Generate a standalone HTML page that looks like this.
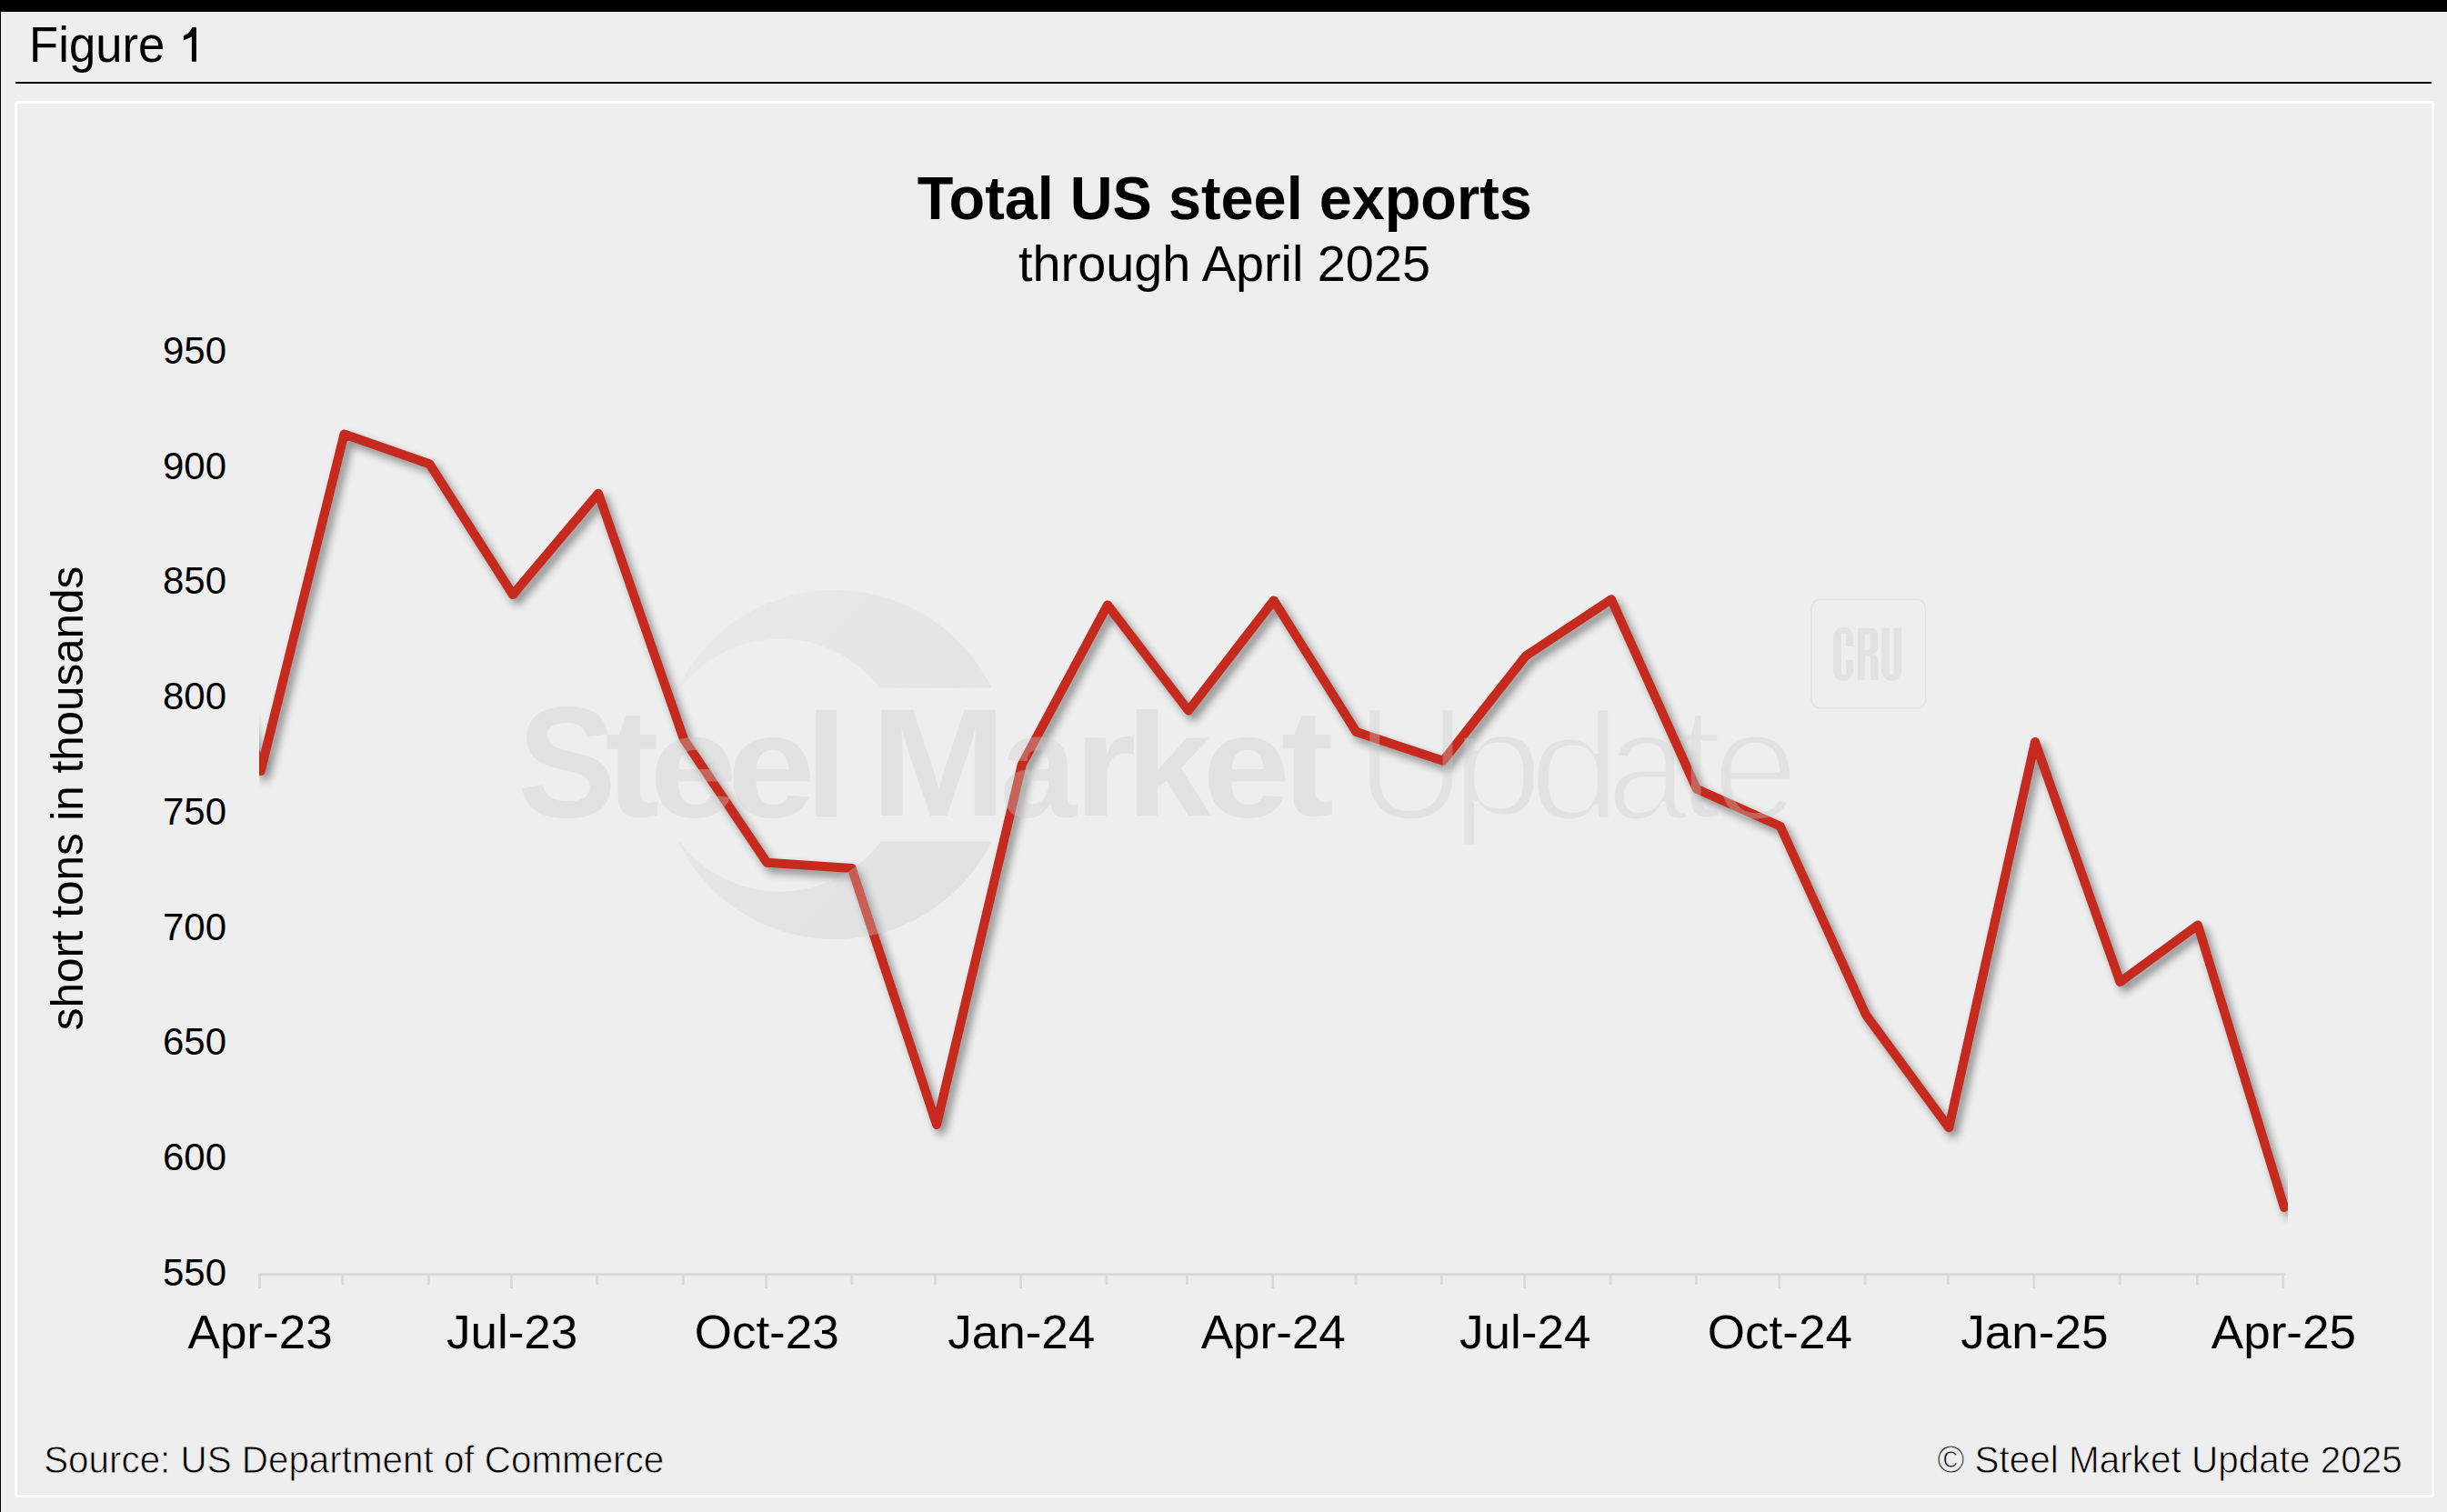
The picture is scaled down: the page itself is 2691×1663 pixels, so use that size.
<!DOCTYPE html>
<html><head><meta charset="utf-8"><style>
html,body{margin:0;padding:0;background:#eeeeee;}
body{width:2691px;height:1663px;overflow:hidden;position:relative;}
svg{position:absolute;left:0;top:0;display:block;}
text{font-family:"Liberation Sans",sans-serif;}
</style></head><body>
<svg width="2691" height="1663" viewBox="0 0 2691 1663">
<defs>
<clipPath id="plot"><rect x="285" y="300" width="2231" height="1100"/></clipPath>
<filter id="sh" x="-10%" y="-10%" width="120%" height="120%" color-interpolation-filters="sRGB">
<feGaussianBlur in="SourceAlpha" stdDeviation="5"/>
<feOffset dx="5" dy="6" result="b"/>
<feComponentTransfer><feFuncA type="linear" slope="0.42"/></feComponentTransfer>
<feMerge><feMergeNode/><feMergeNode in="SourceGraphic"/></feMerge>
</filter>
</defs>
<rect x="0" y="0" width="2691" height="1663" fill="#eeeeee"/>
<rect x="0" y="0" width="2691" height="13" fill="#000"/>
<rect x="0" y="0" width="1" height="1663" fill="#000"/>
<text x="32.1" y="67.7" font-size="55" textLength="149.2" lengthAdjust="spacingAndGlyphs">Figure</text>
<path d="M215.9,29.9 V67.7 H210.9 V40.3 Q207.2,42.8 201.9,44.2 V39.2 Q208.6,36.6 211.4,29.9 Z" fill="#000"/>
<rect x="17" y="90" width="2657" height="2" rx="1" fill="#000"/>
<rect x="17.5" y="112.5" width="2658" height="1533" rx="2" fill="none" stroke="#fff" stroke-width="3"/>
<text x="1346.8" y="241" font-size="67" font-weight="bold" text-anchor="middle" textLength="676.1" lengthAdjust="spacingAndGlyphs">Total US steel exports</text>
<text x="1346.5" y="308.7" font-size="55" text-anchor="middle" textLength="452.9" lengthAdjust="spacingAndGlyphs">through April 2025</text>
<g font-size="42"><text x="249.1" y="399.9" text-anchor="end">950</text><text x="249.1" y="526.6" text-anchor="end">900</text><text x="249.1" y="653.4" text-anchor="end">850</text><text x="249.1" y="780.1" text-anchor="end">800</text><text x="249.1" y="906.9" text-anchor="end">750</text><text x="249.1" y="1033.7" text-anchor="end">700</text><text x="249.1" y="1160.4" text-anchor="end">650</text><text x="249.1" y="1287.2" text-anchor="end">600</text><text x="249.1" y="1413.9" text-anchor="end">550</text></g>
<text transform="translate(90.7,878) rotate(-90)" font-size="50.5" text-anchor="middle" textLength="510.4" lengthAdjust="spacingAndGlyphs">short tons in thousands</text>
<g stroke="#d9d9d9" stroke-width="2.7">
<line x1="284.2" y1="1401.6" x2="2513.5" y2="1401.6"/>
<line x1="285.5" y1="1401" x2="285.5" y2="1417" /><line x1="376.8" y1="1401" x2="376.8" y2="1413" /><line x1="471.2" y1="1401" x2="471.2" y2="1413" /><line x1="562.5" y1="1401" x2="562.5" y2="1417" /><line x1="656.9" y1="1401" x2="656.9" y2="1413" /><line x1="751.3" y1="1401" x2="751.3" y2="1413" /><line x1="842.6" y1="1401" x2="842.6" y2="1417" /><line x1="937.0" y1="1401" x2="937.0" y2="1413" /><line x1="1028.3" y1="1401" x2="1028.3" y2="1413" /><line x1="1122.7" y1="1401" x2="1122.7" y2="1417" /><line x1="1217.0" y1="1401" x2="1217.0" y2="1413" /><line x1="1305.3" y1="1401" x2="1305.3" y2="1413" /><line x1="1399.7" y1="1401" x2="1399.7" y2="1417" /><line x1="1491.0" y1="1401" x2="1491.0" y2="1413" /><line x1="1585.4" y1="1401" x2="1585.4" y2="1413" /><line x1="1676.7" y1="1401" x2="1676.7" y2="1417" /><line x1="1771.1" y1="1401" x2="1771.1" y2="1413" /><line x1="1865.4" y1="1401" x2="1865.4" y2="1413" /><line x1="1956.8" y1="1401" x2="1956.8" y2="1417" /><line x1="2051.1" y1="1401" x2="2051.1" y2="1413" /><line x1="2142.5" y1="1401" x2="2142.5" y2="1413" /><line x1="2236.8" y1="1401" x2="2236.8" y2="1417" /><line x1="2331.2" y1="1401" x2="2331.2" y2="1413" /><line x1="2416.4" y1="1401" x2="2416.4" y2="1413" /><line x1="2510.8" y1="1401" x2="2510.8" y2="1417" />
</g>
<g font-size="51.6"><text x="286.1" y="1482.8" text-anchor="middle" textLength="159.08" lengthAdjust="spacingAndGlyphs">Apr-23</text><text x="563.1" y="1482.8" text-anchor="middle" textLength="144.36" lengthAdjust="spacingAndGlyphs">Jul-23</text><text x="843.2" y="1482.8" text-anchor="middle" textLength="159.06" lengthAdjust="spacingAndGlyphs">Oct-23</text><text x="1123.3" y="1482.8" text-anchor="middle" textLength="162.06" lengthAdjust="spacingAndGlyphs">Jan-24</text><text x="1400.3" y="1482.8" text-anchor="middle" textLength="159.08" lengthAdjust="spacingAndGlyphs">Apr-24</text><text x="1677.3" y="1482.8" text-anchor="middle" textLength="144.36" lengthAdjust="spacingAndGlyphs">Jul-24</text><text x="1957.4" y="1482.8" text-anchor="middle" textLength="159.06" lengthAdjust="spacingAndGlyphs">Oct-24</text><text x="2237.4" y="1482.8" text-anchor="middle" textLength="162.06" lengthAdjust="spacingAndGlyphs">Jan-25</text><text x="2511.4" y="1482.8" text-anchor="middle" textLength="159.08" lengthAdjust="spacingAndGlyphs">Apr-25</text></g>
<g clip-path="url(#plot)">
<polyline points="191.1,515 286.7,848 378.5,477.5 472.3,510.3 564,654 658,542.7 752,813 843.4,948.7 936.7,955 1030,1237 1123.8,840.8 1218,665.4 1307,781.5 1400.8,660.4 1491.5,805 1587,836.8 1678,721.3 1772,659.2 1865.8,867.7 1957.8,908.7 2052,1116.2 2143.2,1240.3 2238,816 2331.5,1080 2417,1017.5 2512,1328" fill="none" stroke="#c6291e" stroke-width="10" stroke-linejoin="round" stroke-linecap="round" filter="url(#sh)"/>
</g>

<defs>
<mask id="cres" maskUnits="userSpaceOnUse" x="700" y="600" width="450" height="460">
<rect x="700" y="600" width="450" height="460" fill="black"/>
<circle cx="918" cy="841" r="192" fill="white"/>
<circle cx="858" cy="841.7" r="139" fill="black"/>
<rect x="700" y="756.4" width="450" height="169.4" fill="black"/>
</mask>
<linearGradient id="cg" gradientUnits="userSpaceOnUse" x1="740" y1="660" x2="1100" y2="1020">
<stop offset="0" stop-color="#cdcdcd" stop-opacity="0.12"/>
<stop offset="1" stop-color="#cdcdcd" stop-opacity="0.40"/>
</linearGradient>
<mask id="upd" maskUnits="userSpaceOnUse" x="1400" y="700" width="700" height="300">
<g font-size="170">
<text transform="matrix(0.9944,0,0,1.0504,1490.76,900.76)" fill="white" stroke="black" stroke-width="5">U</text>
<text transform="matrix(1.0818,0,0,0.9758,1595.15,896.68)" fill="white" stroke="black" stroke-width="5">p</text>
<text transform="matrix(1.0804,0,0,0.9980,1681.09,900.84)" fill="white" stroke="black" stroke-width="5">d</text>
<text transform="matrix(0.9470,0,0,1.0200,1766.66,900.81)" fill="white" stroke="black" stroke-width="5">a</text>
<text transform="matrix(1.0711,0,0,1.0456,1843.34,900.01)" fill="white" stroke="black" stroke-width="5">t</text>
<text transform="matrix(1.0104,0,0,1.0200,1882.70,900.81)" fill="white" stroke="black" stroke-width="5">e</text>
</g>
</mask>
</defs>
<rect x="700" y="600" width="450" height="460" fill="url(#cg)" mask="url(#cres)"/>
<g opacity="0.36" fill="#cdcdcd">
<g font-size="170" font-weight="bold" style="fill:#cdcdcd">
<text transform="matrix(0.9573,0,0,1.0128,569.31,898.22)">S</text>
<text transform="matrix(1.0446,0,0,0.9885,665.73,897.52)">t</text>
<text transform="matrix(1.0196,0,0,0.9513,714.13,897.82)">e</text>
<text transform="matrix(1.0293,0,0,0.9513,799.56,897.82)">e</text>
<text transform="matrix(1.0032,0,0,0.9490,884.69,897.60)">l</text>
<text transform="matrix(1.0541,0,0,0.9961,957.61,897.10)">M</text>
<text transform="matrix(0.8859,0,0,0.9588,1100.09,897.61)">a</text>
<text transform="matrix(1.0348,0,0,0.9524,1181.10,897.10)">r</text>
<text transform="matrix(0.9923,0,0,0.9457,1238.32,897.10)">k</text>
<text transform="matrix(1.0196,0,0,0.9535,1322.53,897.62)">e</text>
<text transform="matrix(1.0255,0,0,0.9832,1408.77,896.63)">t</text>
</g>
<rect x="1400" y="700" width="700" height="300" mask="url(#upd)"/>
<rect x="1992.3" y="659.5" width="125.1" height="119.4" rx="9" fill="none" stroke="#cdcdcd" stroke-width="1.4"/>
<path fill-rule="evenodd" d="M2038.1,711.1 V700.8 A11,11 0 0 0 2016.1,700.8 V737.9 A11,11 0 0 0 2038.1,737.9 V726.1 H2030.3 V739.4 A2.7,2.7 0 0 1 2024.9,739.4 V699 A2.7,2.7 0 0 1 2030.3,699 V711.1 Z"/>
<path fill-rule="evenodd" d="M2043,690.7 H2057 A8.2,8.2 0 0 1 2065.2,698.9 V710 Q2065.2,717.5 2059,719.2 Q2065.6,721 2065.6,728 V747.7 H2057.3 V727 Q2057.3,721.3 2053,721.3 H2050.8 V747.7 H2043 Z M2050.8,697.7 H2053.6 A2.8,2.8 0 0 1 2056.4,700.5 V712 A2.8,2.8 0 0 1 2053.6,714.8 H2050.8 Z"/>
<path d="M2069.4,690.7 H2077.7 V739.7 A2.4,2.4 0 0 0 2082.5,739.7 V690.7 H2091.1 V738 A10.85,10.85 0 0 1 2069.4,738 Z"/>
</g>
<text x="48.2" y="1619.8" font-size="42.2" stroke="#eeeeee" stroke-width="0.8" textLength="682" lengthAdjust="spacingAndGlyphs">Source: US Department of Commerce</text>
<text x="2641.8" y="1619.8" font-size="42.2" stroke="#eeeeee" stroke-width="0.8" text-anchor="end" textLength="511.3" lengthAdjust="spacingAndGlyphs">© Steel Market Update 2025</text>
</svg>
</body></html>
